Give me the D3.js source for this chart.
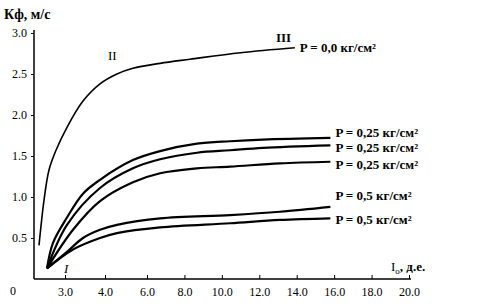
<!DOCTYPE html>
<html>
<head>
<meta charset="utf-8">
<script src="https://cdn.jsdelivr.net/npm/d3@7"></script>
<style>
  body { margin: 0; background: #fff; }
  svg text { font-family: "Liberation Serif", "DejaVu Serif", serif; fill: #000; }
</style>
</head>
<body>
<div id="chart"></div>
<script>
// Values (I_o, Kf)
var curveII_x = [2.35, 2.475, 2.6, 2.775, 3.05, 3.45, 3.875, 4.57, 5.33, 6.7, 8.3, 11.0, 13.9];
var curveII_y = [0.41, 0.96, 1.33, 1.57, 1.85, 2.17, 2.38, 2.50, 2.57, 2.63, 2.68, 2.76, 2.82];
var curveA_x = [2.55, 2.7, 3.05, 3.45, 3.875, 5.33, 6.7, 8.67, 10.44, 12.2, 15.8];
var curveA_y = [0.13, 0.44, 0.75, 1.04, 1.21, 1.45, 1.56, 1.65, 1.68, 1.70, 1.72];
var curveB_x = [2.55, 3.05, 3.875, 5.33, 6.7, 8.67, 10.44, 12.2, 15.8];
var curveB_y = [0.13, 0.66, 1.11, 1.35, 1.46, 1.54, 1.57, 1.60, 1.63];
var curveC_x = [2.55, 3.2, 3.875, 5.33, 6.7, 8.67, 10.44, 13.1, 15.8];
var curveC_y = [0.13, 0.60, 0.95, 1.18, 1.29, 1.35, 1.37, 1.41, 1.43];
var curveD_x = [2.55, 3.05, 3.45, 3.875, 4.57, 6.7, 10.44, 13.1, 15.8];
var curveD_y = [0.13, 0.33, 0.50, 0.60, 0.66, 0.74, 0.78, 0.82, 0.88];
var curveE_x = [2.55, 3.2, 3.875, 4.57, 6.7, 10.44, 13.1, 15.8];
var curveE_y = [0.13, 0.36, 0.50, 0.56, 0.63, 0.68, 0.72, 0.74];

var xTicks = [3, 4, 6, 8, 10, 12, 14, 16, 18, 20];
var yTicks = [0.5, 1.0, 1.5, 2.0, 2.5, 3.0];
var endLabels = ["P = 0,0 кг/см²", "P = 0,25 кг/см²", "P = 0,25 кг/см²", "P = 0,25 кг/см²", "P = 0,5 кг/см²", "P = 0,5 кг/см²"];

var width = 480, height = 304;

var svg = d3.select("#chart")
    .append("svg")
    .attr("width", width)
    .attr("height", height);

// the scanned axis is not evenly spaced, so the x scale is piecewise
var x = d3.scaleLinear()
    .domain([2.225, 3, 4, 6, 20])
    .range([34, 65, 105, 147, 409]);

var y = d3.scaleLinear()
    .domain([0, 3])
    .range([279, 33]);

// X axis
var xAxis = svg.append("g")
    .attr("transform", "translate(0," + y(0) + ")")
    .call(d3.axisBottom(x).tickValues(xTicks).tickSize(-4).tickPadding(8)
        .tickFormat(d3.format(".1f")));
xAxis.select(".domain").remove();
xAxis.append("line")
    .attr("x1", x.range()[0]).attr("x2", x(20) + 2)
    .attr("stroke", "#000").attr("stroke-width", 1.5);
xAxis.selectAll("text").style("font-size", "12px");

// Y axis
var yAxis = svg.append("g")
    .attr("transform", "translate(" + x.range()[0] + ",0)")
    .call(d3.axisLeft(y).tickValues(yTicks).tickSize(3).tickPadding(4)
        .tickFormat(d3.format(".1f")));
yAxis.select(".domain").remove();
yAxis.append("line")
    .attr("y1", y(0)).attr("y2", y(3) - 3)
    .attr("stroke", "#000").attr("stroke-width", 1.5);
yAxis.selectAll("text").style("font-size", "12px");

svg.append("text")
    .attr("x", 10).attr("y", y(0) + 16)
    .style("font-size", "12px")
    .text("0");

// axis titles
svg.append("text")
    .attr("x", 4).attr("y", 19)
    .style("font-size", "14px").style("font-weight", "bold")
    .text("Кф, м/с");

var xt = svg.append("text")
    .attr("x", 391).attr("y", 271)
    .style("font-size", "13px");
xt.append("tspan").text("I");
xt.append("tspan").attr("dy", 3).style("font-size", "9px").text("o");
xt.append("tspan").attr("dy", -3).style("font-weight", "bold").text(", д.е.");

// curves
var series = [
    d3.zip(curveII_x, curveII_y),
    d3.zip(curveA_x, curveA_y),
    d3.zip(curveB_x, curveB_y),
    d3.zip(curveC_x, curveC_y),
    d3.zip(curveD_x, curveD_y),
    d3.zip(curveE_x, curveE_y)
];

var line = d3.line()
    .x(function (d) { return x(d[0]); })
    .y(function (d) { return y(d[1]); })
    .curve(d3.curveCatmullRom.alpha(0.5));

svg.selectAll("path.curve")
    .data(series)
    .enter()
    .append("path")
    .attr("class", "curve")
    .attr("d", line)
    .attr("fill", "none")
    .attr("stroke", "#000")
    .attr("stroke-width", function (d, i) { return i === 0 ? 1.6 : 2.2; });

// labels at the end of curves (nudged so they don't collide)
var labelDy = [4, -1, 7, 7, -7, 6];
svg.selectAll("text.end")
    .data(series)
    .enter()
    .append("text")
    .attr("class", "end")
    .attr("x", function (d) { return x(d[d.length - 1][0]) + 5; })
    .attr("y", function (d, i) { return y(d[d.length - 1][1]) + labelDy[i]; })
    .style("font-size", "13px")
    .style("font-weight", "bold")
    .text(function (d, i) { return endLabels[i]; });

// roman numerals
svg.append("text").attr("x", 108).attr("y", 60).style("font-size", "13px").text("II");
svg.append("text").attr("x", 276).attr("y", 42).style("font-size", "13px").style("font-weight", "bold").text("III");
svg.append("text").attr("x", 64).attr("y", 273).style("font-size", "13px").style("font-style", "italic").text("I");
</script>
</body>
</html>
